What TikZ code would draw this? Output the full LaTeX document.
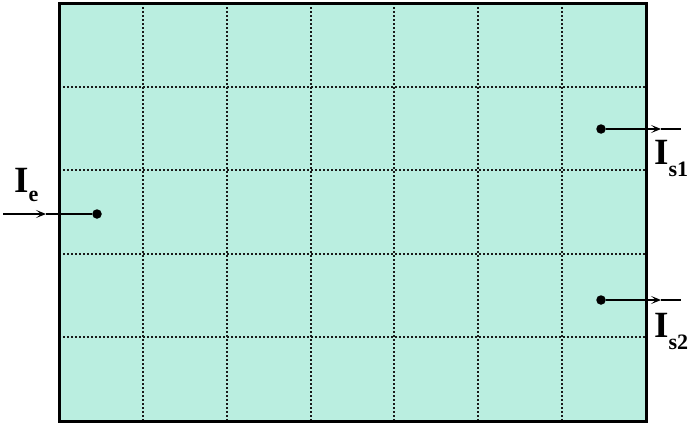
\documentclass[tikz,border=0pt]{standalone}
\usepackage{fontspec}
\setmainfont{Liberation Serif}
\usetikzlibrary{arrows.meta}
\definecolor{mint}{RGB}{186,238,224}
\tikzset{
  gridline/.style={line width=2pt, dash pattern=on 1.8pt off 2.2pt, black!90},
  pdot/.style={circle, fill=black, inner sep=0pt, minimum size=9.5pt},
  wire/.style={line width=1.3pt},
  arrwire/.style={line width=1.3pt, -{Stealth[length=10pt,width=8pt,inset=5pt]}},
  biglbl/.style={inner sep=0pt, anchor=base west, font=\bfseries},
}
\newcommand{\mainI}{{\fontsize{37}{37}\selectfont I}}
\newcommand{\subtxt}[2]{\raisebox{-#1}{\fontsize{22}{22}\selectfont #2}}
\begin{document}
\begin{tikzpicture}[x=1pt,y=-1pt]
\useasboundingbox (0,0) rectangle (689,423);
% frame
\fill[mint] (59,3) rectangle (646,421);
% grid
\foreach \gx in {142.9,226.7,310.6,394.4,478.3,562.1}
  \draw[gridline] (\gx,3) -- (\gx,421);
\foreach \gy in {86.6,170.2,253.8,337.4}
  \draw[gridline] (59,\gy) -- (646,\gy);
\draw[line width=3pt] (59,3) rectangle (646,421);
% points
\node[pdot] (edot) at (97,214) {};
\node[pdot] (s1dot) at (601,129) {};
\node[pdot] (s2dot) at (601,300) {};
% coordinates for free ends
\coordinate (ein) at (3,214);
\coordinate (etip) at (46,214);
\coordinate (s1tip) at (661,129);
\coordinate (s1end) at (681,129);
\coordinate (s2tip) at (661,300);
\coordinate (s2end) at (681,300);
% connectors
\draw[arrwire] (ein) -- (etip);
\draw[wire] (etip) -- (edot);
\draw[arrwire] (s1dot) -- (s1tip);
\draw[wire] (s1tip) -- (s1end);
\draw[arrwire] (s2dot) -- (s2tip);
\draw[wire] (s2tip) -- (s2end);
% labels
\node[biglbl] (le) at (14,192) {\mainI\subtxt{9pt}{e}};
\node[biglbl] (ls1) at (654,164) {\mainI\subtxt{12pt}{s1}};
\node[biglbl] (ls2) at (654,337) {\mainI\subtxt{12pt}{s2}};
\end{tikzpicture}
\end{document}
